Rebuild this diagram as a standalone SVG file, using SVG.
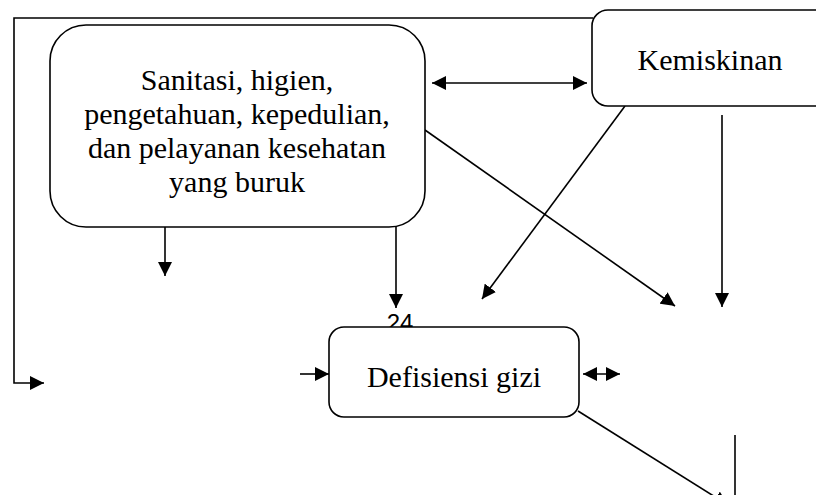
<svg xmlns="http://www.w3.org/2000/svg" width="816" height="495" viewBox="0 0 816 495">
<defs>
<style>
.box{fill:#fff;stroke:#000;stroke-width:1.6}
.ln{fill:none;stroke:#000;stroke-width:1.6}
.t{font-family:"Liberation Serif","Times New Roman",serif;font-size:30px;fill:#000;text-anchor:middle}
.num{font-family:"Liberation Sans",Arial,sans-serif;font-size:24px;fill:#000;text-anchor:middle}
</style>
<marker id="ah" viewBox="0 0 10 10" refX="10" refY="5" markerWidth="14" markerHeight="14" markerUnits="userSpaceOnUse" orient="auto-start-reverse">
<path d="M0,0 L10,5 L0,10 Z" fill="#000"/>
</marker>
</defs>
<rect width="816" height="495" fill="#fff"/>
<text class="num" x="400" y="331">24</text>
<g id="connectors">
<polyline class="ln" points="593,18 14,18 14,383 44,383" marker-end="url(#ah)"/>
<line class="ln" x1="432" y1="83" x2="587" y2="83" marker-start="url(#ah)" marker-end="url(#ah)"/>
<line class="ln" x1="425" y1="130" x2="675" y2="306" marker-end="url(#ah)"/>
<line class="ln" x1="625" y1="106" x2="482" y2="299" marker-end="url(#ah)"/>
<line class="ln" x1="722" y1="115" x2="722" y2="307" marker-end="url(#ah)"/>
<line class="ln" x1="165" y1="227" x2="165" y2="276" marker-end="url(#ah)"/>
<line class="ln" x1="396" y1="227" x2="396" y2="308" marker-end="url(#ah)"/>
<line class="ln" x1="300" y1="374" x2="329" y2="374" marker-end="url(#ah)"/>
<line class="ln" x1="583" y1="374" x2="620" y2="374" marker-start="url(#ah)" marker-end="url(#ah)"/>
<line class="ln" x1="578" y1="411" x2="728" y2="505" marker-end="url(#ah)"/>
<line class="ln" x1="735" y1="435" x2="735" y2="500"/>
</g>
<g id="node-sanitasi">
<rect class="box" x="50" y="25" width="375" height="202" rx="36" ry="36"/>
<text class="t" x="237" y="90">Sanitasi, higien,</text>
<text class="t" x="237" y="124">pengetahuan, kepedulian,</text>
<text class="t" x="237" y="158">dan pelayanan kesehatan</text>
<text class="t" x="237" y="192">yang buruk</text>
</g>
<g id="node-kemiskinan">
<rect class="box" x="592" y="10" width="240" height="96" rx="16" ry="16"/>
<text class="t" x="710" y="70">Kemiskinan</text>
</g>
<g id="node-defisiensi">
<rect class="box" x="329" y="327" width="250" height="90" rx="15" ry="15"/>
<text class="t" x="454" y="387">Defisiensi gizi</text>
</g>
</svg>
